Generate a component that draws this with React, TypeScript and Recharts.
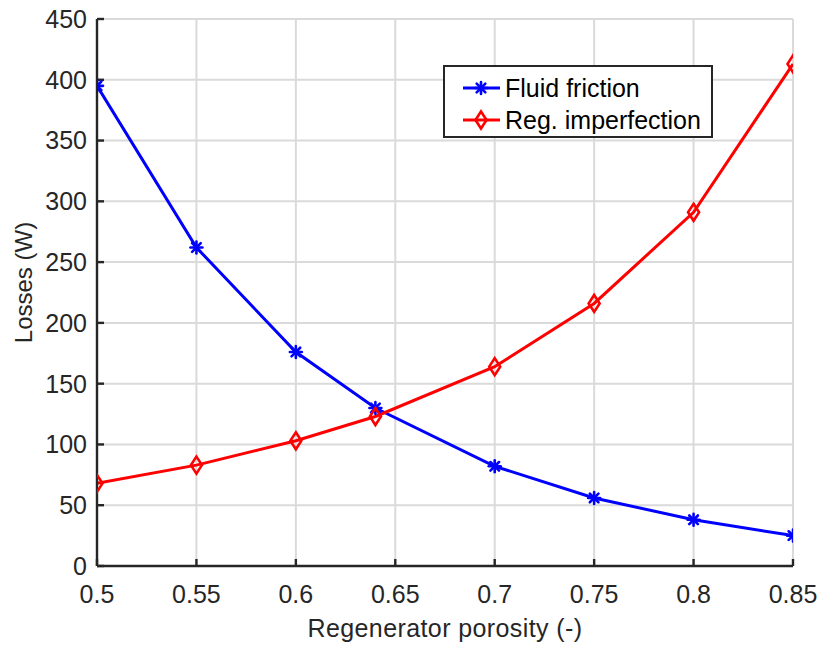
import React from 'react';
import { LineChart, Line, XAxis, YAxis, CartesianGrid, Label } from 'recharts';

const porosity = [0.5, 0.55, 0.6, 0.64, 0.7, 0.75, 0.8, 0.85];
const fluidFriction = [395, 262, 176, 130, 82, 56, 38, 25];
const regImperfection = [68, 83, 103, 123, 164, 216, 291, 413];
const xTicks = [0.5, 0.55, 0.6, 0.65, 0.7, 0.75, 0.8, 0.85];
const yTicks = [0, 50, 100, 150, 200, 250, 300, 350, 400, 450];
const seriesNames = ['Fluid friction', 'Reg. imperfection'];

const data = porosity.map((p, i) => ({ p, ff: fluidFriction[i], ri: regImperfection[i] }));

const FONT = '"Liberation Sans", Arial, Helvetica, sans-serif';
const AX = '#262626';
const BLUE = '#0000ff';
const RED = '#ff0000';

const Asterisk = ({ cx, cy, color, r = 6 }: any) => {
  const d = r * 0.72;
  return (
    <g stroke={color} strokeWidth={2.6} strokeLinecap="round">
      <line x1={cx - r} y1={cy} x2={cx + r} y2={cy} />
      <line x1={cx} y1={cy - r} x2={cx} y2={cy + r} />
      <line x1={cx - d} y1={cy - d} x2={cx + d} y2={cy + d} />
      <line x1={cx - d} y1={cy + d} x2={cx + d} y2={cy - d} />
    </g>
  );
};

const Diamond = ({ cx, cy, color, hw = 5.5, hh = 8.5 }: any) => (
  <path
    d={`M${cx},${cy - hh} L${cx + hw},${cy} L${cx},${cy + hh} L${cx - hw},${cy} Z`}
    fill="none"
    stroke={color}
    strokeWidth={2.6}
  />
);

const renderAsterisk = (props: any) => (
  <Asterisk key={`a-${props.index}`} cx={props.cx} cy={props.cy} color={BLUE} />
);
const renderDiamond = (props: any) => (
  <Diamond key={`d-${props.index}`} cx={props.cx} cy={props.cy} color={RED} />
);

const YLabel = ({ viewBox }: any) => {
  const cx = 23;
  const cy = viewBox.y + viewBox.height / 2 - 10;
  return (
    <text
      x={cx}
      y={cy}
      transform={`rotate(-90 ${cx} ${cy})`}
      textAnchor="middle"
      dominantBaseline="central"
      fontFamily={FONT}
      fontSize={24}
      fill={AX}
    >
      Losses (W)
    </text>
  );
};

const tickStyle = { fontFamily: FONT, fontSize: 25, fill: AX };

export default function App() {
  return (
    <div style={{ position: 'absolute', left: 0, top: 0, width: 822, height: 646, background: '#fff' }}>
      <LineChart
        width={822}
        height={646}
        data={data}
        margin={{ top: 19, right: 29, bottom: 0, left: 0 }}
      >
        <CartesianGrid stroke="#dadada" strokeWidth={2} horizontalValues={yTicks} verticalValues={xTicks} />
        <XAxis
          dataKey="p"
          type="number"
          domain={[0.5, 0.85]}
          ticks={xTicks}
          height={80}
          tickSize={-7}
          tickMargin={26}
          interval={0}
          allowDataOverflow
          stroke={AX}
          strokeWidth={2.4}
          tick={tickStyle}
          tickLine={{ stroke: AX, strokeWidth: 2.4 }}
        >
          <Label
            value="Regenerator porosity (-)"
            position="insideBottom"
            offset={9}
            style={{ fontFamily: FONT, fontSize: 25, fill: AX, letterSpacing: 0.4 }}
          />
        </XAxis>
        <XAxis
          xAxisId="top"
          orientation="top"
          dataKey="p"
          type="number"
          domain={[0.5, 0.85]}
          ticks={xTicks}
          height={0}
          tickSize={-7}
          interval={0}
          allowDataOverflow
          stroke={AX}
          strokeWidth={2.4}
          tickFormatter={() => ''}
          tickLine={{ stroke: AX, strokeWidth: 2.4 }}
        />
        <YAxis
          type="number"
          domain={[0, 450]}
          ticks={yTicks}
          width={97}
          tickSize={-7}
          tickMargin={17}
          interval={0}
          allowDataOverflow
          stroke={AX}
          strokeWidth={2.4}
          tick={tickStyle}
          tickLine={{ stroke: AX, strokeWidth: 2.4 }}
        >
          <Label content={<YLabel />} />
        </YAxis>
        <YAxis
          yAxisId="right"
          orientation="right"
          type="number"
          domain={[0, 450]}
          ticks={yTicks}
          width={0}
          tickSize={-7}
          interval={0}
          allowDataOverflow
          stroke={AX}
          strokeWidth={2.4}
          tickFormatter={() => ''}
          tickLine={{ stroke: AX, strokeWidth: 2.4 }}
        />
        <Line
          dataKey="ff"
          name={seriesNames[0]}
          stroke={BLUE}
          strokeWidth={3}
          dot={renderAsterisk}
          activeDot={false}
          isAnimationActive={false}
        />
        <Line
          dataKey="ri"
          name={seriesNames[1]}
          stroke={RED}
          strokeWidth={3}
          dot={renderDiamond}
          activeDot={false}
          isAnimationActive={false}
        />
      </LineChart>
      <div
        style={{
          position: 'absolute',
          left: 443,
          top: 65,
          width: 270,
          height: 73,
          boxSizing: 'border-box',
          border: `2.4px solid ${AX}`,
          background: '#fff',
          fontFamily: FONT,
          fontSize: 25,
          color: '#000',
        }}
      >
        {seriesNames.map((name, i) => (
          <div key={name} style={{ position: 'absolute', left: 0, top: i === 0 ? 6 : 38, height: 30, display: 'flex', alignItems: 'center' }}>
            <svg width={60} height={30} style={{ display: 'block' }}>
              <line x1={18} y1={15} x2={55} y2={15} stroke={i === 0 ? BLUE : RED} strokeWidth={3} />
              {i === 0 ? <Asterisk cx={36} cy={15} color={BLUE} /> : <Diamond cx={36} cy={15} color={RED} />}
            </svg>
            <span style={{ whiteSpace: 'nowrap' }}>{name}</span>
          </div>
        ))}
      </div>
    </div>
  );
}
